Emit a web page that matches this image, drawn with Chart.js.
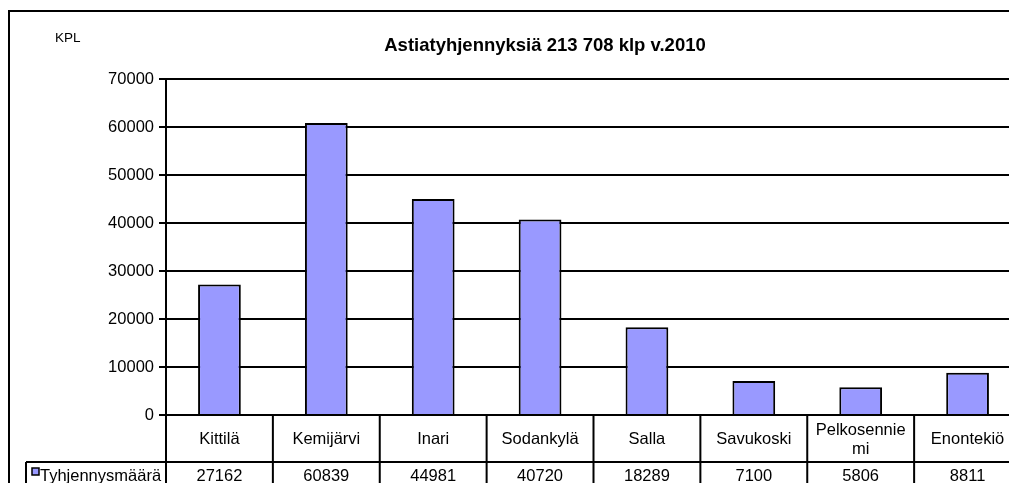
<!DOCTYPE html>
<html>
<head>
<meta charset="utf-8">
<script src="https://cdn.jsdelivr.net/npm/chart.js@4.4.1/dist/chart.umd.min.js"></script>
<style>
  html, body { margin: 0; padding: 0; overflow: hidden; background: #fff; }
  #wrap { position: absolute; left: 0; top: 0; width: 1040px; height: 500px; }
</style>
</head>
<body>
<div id="wrap"><canvas id="chart" width="1040" height="500"></canvas></div>
<script>
// chart data
const chartTitle = 'Astiatyhjennyksiä 213 708 klp v.2010';
const unitLabel = 'KPL';
const seriesName = 'Tyhjennysmäärä';
const categories = ['Kittilä', 'Kemijärvi', 'Inari', 'Sodankylä', 'Salla', 'Savukoski', 'Pelkosenniemi', 'Enontekiö'];
const values = [27162, 60839, 44981, 40720, 18289, 7100, 5806, 8811];
const yMin = 0;
const yMax = 70000;
const yStep = 10000;

const FONT = '"Liberation Sans", Arial, sans-serif';
const barColor = '#9999FF';

// break a label by characters so it fits in the table cell (like Excel does)
function wrapText(ctx, text, maxW) {
  const lines = [];
  let cur = '';
  for (const ch of text) {
    if (ctx.measureText(cur + ch).width > maxW && cur) {
      lines.push(cur);
      cur = ch;
    } else {
      cur += ch;
    }
  }
  if (cur) lines.push(cur);
  return lines;
}

// draws title, frame and the data table under the plot
const excelExtras = {
  id: 'excelExtras',
  afterDraw(chart) {
    const ctx = chart.ctx;
    const area = chart.chartArea;
    const xs = chart.scales.x;
    ctx.save();

    // outer frame
    ctx.strokeStyle = '#000';
    ctx.lineWidth = 2;
    ctx.strokeRect(9, 11, 1200, 700);

    // title + unit
    ctx.fillStyle = '#000';
    ctx.textAlign = 'center';
    ctx.textBaseline = 'middle';
    ctx.font = 'bold 18.5px ' + FONT;
    ctx.fillText(chartTitle, 545, 46);
    ctx.textAlign = 'left';
    ctx.font = '13.5px ' + FONT;
    ctx.fillText(unitLabel, 55, 38);

    // data table
    const n = categories.length;
    const half = (xs.getPixelForValue(1) - xs.getPixelForValue(0)) / 2;
    const row1Top = area.bottom;
    const row2Top = 462;
    const tableBottom = 600;

    ctx.lineWidth = 2;
    ctx.beginPath();
    for (let i = 0; i <= n; i++) {
      const x = i < n ? xs.getPixelForValue(i) - half : xs.getPixelForValue(n - 1) + half;
      ctx.moveTo(x, row1Top);
      ctx.lineTo(x, tableBottom);
    }
    ctx.moveTo(26, row2Top);
    ctx.lineTo(area.right, row2Top);
    ctx.moveTo(26, row2Top);
    ctx.lineTo(26, tableBottom);
    ctx.stroke();

    ctx.font = '16.5px ' + FONT;
    ctx.textAlign = 'center';
    ctx.textBaseline = 'middle';
    for (let i = 0; i < n; i++) {
      const cx = xs.getPixelForValue(i);
      const lines = wrapText(ctx, categories[i], half * 2 - 10);
      const lh = 19;
      const cy = (row1Top + row2Top) / 2 + 1;
      lines.forEach((ln, k) => {
        ctx.fillText(ln, cx, cy + (k - (lines.length - 1) / 2) * lh);
      });
      ctx.fillText(String(values[i]), cx, 476);
    }

    // legend key inside the table
    ctx.fillStyle = barColor;
    ctx.fillRect(32, 468, 7, 7);
    ctx.strokeStyle = '#000';
    ctx.lineWidth = 1.5;
    ctx.strokeRect(32, 468, 7, 7);
    ctx.fillStyle = '#000';
    ctx.textAlign = 'left';
    ctx.fillText(seriesName, 40, 476);

    ctx.restore();
  }
};

new Chart(document.getElementById('chart'), {
  type: 'bar',
  data: {
    labels: categories,
    datasets: [{
      label: seriesName,
      data: values,
      backgroundColor: barColor,
      borderColor: '#000',
      borderWidth: 2,
      barPercentage: 0.4,
      categoryPercentage: 1.0
    }]
  },
  options: {
    responsive: false,
    animation: false,
    devicePixelRatio: 1,
    layout: { padding: { left: 0, top: 79, right: 19, bottom: 85 } },
    plugins: {
      legend: { display: false },
      title: { display: false },
      tooltip: { enabled: false }
    },
    scales: {
      x: { display: false },
      y: {
        min: yMin,
        max: yMax,
        afterFit(scale) { scale.width = 166; },
        ticks: {
          stepSize: yStep,
          color: '#000',
          padding: 5,
          font: { family: FONT, size: 16.5 },
          callback: v => String(v)
        },
        grid: {
          color: '#000',
          lineWidth: 2,
          drawTicks: true,
          tickLength: 7
        },
        border: { display: true, color: '#000', width: 2 }
      }
    }
  },
  plugins: [excelExtras]
});
</script>
</body>
</html>
